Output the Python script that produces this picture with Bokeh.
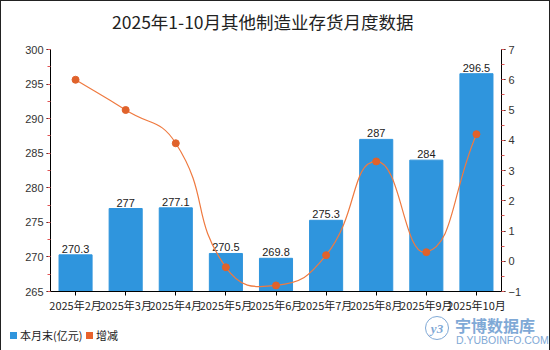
from bokeh.plotting import figure
from bokeh.layouts import column
from bokeh.models import (Range1d, LinearAxis, SingleIntervalTicker, FactorRange,
                          ColumnDataSource, Div)
from bokeh.core.properties import value
from bokeh.embed import file_html
from bokeh.resources import INLINE
import math

title_text = "2025年1-10月其他制造业存货月度数据"
months = ["2025年2月", "2025年3月", "2025年4月", "2025年5月", "2025年6月",
          "2025年7月", "2025年8月", "2025年9月", "2025年10月"]
stock = [270.3, 277, 277.1, 270.5, 269.8, 275.3, 287, 284, 296.5]
stock_labels = ["270.3", "277", "277.1", "270.5", "269.8", "275.3", "287", "284", "296.5"]
change = [6.0, 5.0, 3.9, -0.2, -0.8, 0.2, 3.3, 0.3, 4.2]
series_names = ["本月末(亿元)", "增减"]

BAR = "#2f95dd"
LINE = "#ef7a40"
DOT = "#e0622b"
LEG2 = "#e8622c"
WM = "#7fa9d6"
FONT = "Noto Sans CJK SC"

header = Div(text=f"""<div style="position:relative;width:548px;height:40px;background:white;">
<div style="position:absolute;left:111px;top:10px;font-family:'{FONT}';font-size:17.5px;line-height:22px;color:#222;white-space:nowrap;">{title_text}</div>
</div>""", width=548, height=40, margin=0)

p = figure(x_range=FactorRange(factors=months), y_range=Range1d(265, 300),
           frame_width=451, frame_height=242, title=None,
           min_border_left=49, min_border_right=48, min_border_top=8, min_border_bottom=20,
           output_backend="svg", toolbar_location=None)
p.extra_y_ranges = {"r": Range1d(-1, 7)}
p.outline_line_color = None
p.xgrid.grid_line_color = None
p.ygrid.grid_line_color = None
p.background_fill_color = "white"
p.border_fill_color = "white"

src = ColumnDataSource(dict(m=months, v=stock, lab=stock_labels, c=change))
bars = p.vbar(x="m", top="v", bottom=265, width=0.66, color=BAR, source=src)
p.text(x="m", y="v", text="lab", source=src, text_align="center", text_baseline="bottom",
       y_offset=-2, text_font=value("Liberation Sans"), text_font_size="11px",
       text_color="#222222")

# smooth line (echarts-like bezier) computed in pixel-scaled space
sx, sy, smooth = 50.0, 30.0, 0.5
n = len(change)
px = [(i + 0.5) * sx for i in range(n)]
py = [c * sy for c in change]
cpb, cpa = [], []
for i in range(n):
    a = i - 1 if i > 0 else i
    b = i + 1 if i < n - 1 else i
    vx, vy = px[b] - px[a], py[b] - py[a]
    d0 = math.hypot(px[i] - px[a], py[i] - py[a])
    d1 = math.hypot(px[b] - px[i], py[b] - py[i])
    s = d0 + d1
    if s > 0:
        d0, d1 = d0 / s, d1 / s
    cpb.append((px[i] - vx * smooth * d0, py[i] - vy * smooth * d0))
    cpa.append((px[i] + vx * smooth * d1, py[i] + vy * smooth * d1))
bz = dict(x0=[], y0=[], x1=[], y1=[], cx0=[], cy0=[], cx1=[], cy1=[])
for i in range(n - 1):
    bz["x0"].append(px[i] / sx); bz["y0"].append(py[i] / sy)
    bz["x1"].append(px[i + 1] / sx); bz["y1"].append(py[i + 1] / sy)
    bz["cx0"].append(cpa[i][0] / sx); bz["cy0"].append(cpa[i][1] / sy)
    bz["cx1"].append(cpb[i + 1][0] / sx); bz["cy1"].append(cpb[i + 1][1] / sy)
p.bezier(x0="x0", y0="y0", x1="x1", y1="y1", cx0="cx0", cy0="cy0", cx1="cx1", cy1="cy1",
         source=ColumnDataSource(bz), line_color=LINE, line_width=1.2, y_range_name="r")
p.scatter(x="m", y="c", source=src, size=7, color=DOT, y_range_name="r")

xa = p.xaxis[0]
xa.axis_line_color = "#000000"
xa.major_tick_line_color = "#000000"
xa.major_tick_out = 4
xa.major_tick_in = 0
xa.major_label_text_font = FONT
xa.major_label_text_font_size = "11px"
xa.major_label_text_color = "#222222"
xa.major_label_standoff = 1

yl = p.yaxis[0]
yl.ticker = SingleIntervalTicker(interval=5, num_minor_ticks=2)
ra = LinearAxis(y_range_name="r", ticker=SingleIntervalTicker(interval=1, num_minor_ticks=2))
p.add_layout(ra, "right")
for ax in [yl, ra]:
    ax.axis_line_color = "#000000"
    ax.major_tick_line_color = "#000000"
    ax.minor_tick_line_color = "#e05555"
    ax.major_tick_out = 4
    ax.major_tick_in = 0
    ax.minor_tick_out = 3
    ax.minor_tick_in = 0
    ax.major_label_text_font = "Liberation Sans"
    ax.major_label_text_font_size = "11px"
    ax.major_label_text_color = "#333333"
    ax.major_label_standoff = 3

# footer: legend + watermark as HTML
footer_html = f"""
<div style="position:relative;width:548px;height:38px;background:white;">
  <div style="position:absolute;left:9px;top:17px;width:7px;height:7px;background:{BAR};"></div>
  <div style="position:absolute;left:19px;top:12px;font-family:'{FONT}';font-size:11px;line-height:17px;color:#222;white-space:nowrap;">{series_names[0]}</div>
  <div style="position:absolute;left:85px;top:17px;width:7px;height:7px;background:{LEG2};"></div>
  <div style="position:absolute;left:95px;top:12px;font-family:'{FONT}';font-size:11px;line-height:17px;color:#222;white-space:nowrap;">{series_names[1]}</div>
  <div style="position:absolute;left:424px;top:1px;width:24px;height:24px;border:1.5px solid {WM};border-radius:50%;color:{WM};font-family:'Liberation Serif';font-style:italic;font-weight:bold;font-size:13px;line-height:24px;text-align:center;">y3</div>
  <div style="position:absolute;left:454px;top:2px;font-family:'{FONT}';font-weight:bold;font-size:16px;line-height:16px;color:{WM};white-space:nowrap;">宇博数据库</div>
  <div style="position:absolute;left:455px;top:20px;font-family:'Liberation Sans';font-size:10.5px;line-height:10px;color:{WM};white-space:nowrap;">D.YUBOINFO.COM</div>
</div>
"""
footer = Div(text=footer_html, width=548, height=38, margin=0)

layout = column(header, p, footer, spacing=0, styles={"border": "1px solid #222"})
open("out.html", "w").write(file_html(layout, INLINE))
